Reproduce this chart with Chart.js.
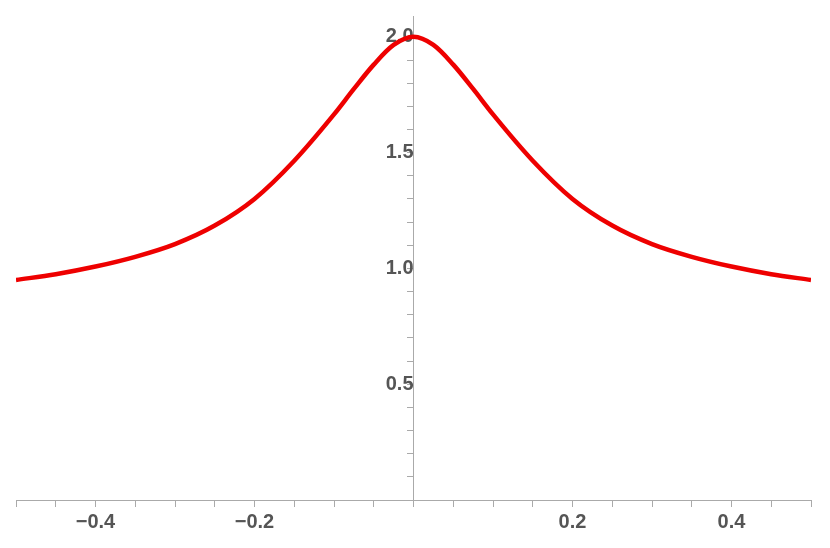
<!DOCTYPE html><html><head><script src="https://cdn.jsdelivr.net/npm/chart.js@4"></script>
<style>body{margin:0;background:#fff}#w{width:830px;height:548px}</style></head><body><div id="w"><canvas id="c"></canvas></div>
<script>
const xs=[-0.5,-0.45,-0.4,-0.35,-0.3,-0.25,-0.2,-0.15,-0.1,-0.075,-0.05,-0.025,0,0.025,0.05,0.075,0.1,0.15,0.2,0.25,0.3,0.35,0.4,0.45,0.5];
const ys=[0.95,0.975,1.008,1.05,1.105,1.185,1.30,1.465,1.665,1.775,1.88,1.965,2.0,1.965,1.88,1.775,1.665,1.465,1.30,1.185,1.105,1.05,1.008,0.975,0.95];
const xLabels={'-0.4':'−0.4','-0.2':'−0.2','0.2':'0.2','0.4':'0.4'};
const yLabels={'0.5':'0.5','1':'1.0','1.5':'1.5','2':'2.0'};
const font={family:'Liberation Sans',size:20,weight:'bold'};
const mk=(a,b,s)=>{const t=[];for(let i=0;a+i*s<=b+1e-9;i++)t.push({value:Math.round((a+i*s)*1000)/1000});return t;};
new Chart(document.getElementById('c'),{type:'line',
data:{datasets:[{data:xs.map((x,i)=>({x,y:ys[i]})),borderColor:'#ee0000',borderWidth:4.5,pointRadius:0,cubicInterpolationMode:'monotone'}]},
options:{responsive:true,maintainAspectRatio:false,animation:false,layout:{padding:{left:16,right:19,top:-6,bottom:48}},
plugins:{legend:{display:false},tooltip:{enabled:false}},
scales:{
x:{type:'linear',min:-0.5,max:0.5,position:{y:0},border:{color:'#aaa',width:1},
 grid:{drawOnChartArea:false,color:'#aaa',tickLength:6},
 afterBuildTicks:s=>{s.ticks=mk(-0.5,0.5,0.05);},
 ticks:{autoSkip:false,maxRotation:0,color:'#555',font,padding:4,
  callback:v=>xLabels[String(Math.round(v*100)/100)]||''}},
y:{type:'linear',min:0,max:2.09,position:{x:0},border:{color:'#aaa',width:1},
 grid:{drawOnChartArea:false,color:'#aaa',tickLength:6},
 afterBuildTicks:s=>{s.ticks=mk(0.1,2.0,0.1);},
 ticks:{autoSkip:false,color:'#555',font,padding:4,
  callback:v=>yLabels[String(Math.round(v*10)/10)]||''}}}}});
</script></body></html>
